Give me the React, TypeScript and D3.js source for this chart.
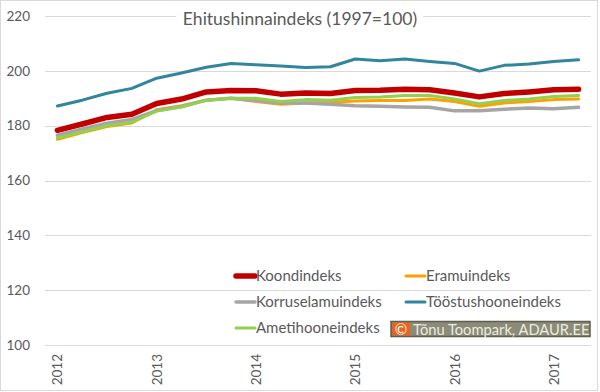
import React from "react";
import * as d3 from "d3";

const quarters: string[] = [
  "2012Q1", "2012Q2", "2012Q3", "2012Q4",
  "2013Q1", "2013Q2", "2013Q3", "2013Q4",
  "2014Q1", "2014Q2", "2014Q3", "2014Q4",
  "2015Q1", "2015Q2", "2015Q3", "2015Q4",
  "2016Q1", "2016Q2", "2016Q3", "2016Q4",
  "2017Q1", "2017Q2",
];

const koondindeks: number[] = [178.3, 180.6, 183.0, 184.2, 188.1, 189.7, 192.3, 192.8, 192.7, 191.5, 191.9, 191.7, 192.8, 192.9, 193.3, 193.1, 191.9, 190.5, 191.7, 192.3, 193.1, 193.3];
const eramuindeks: number[] = [175.0, 177.5, 179.7, 181.0, 185.8, 187.3, 189.3, 190.0, 188.8, 187.8, 188.3, 188.5, 189.0, 189.2, 189.2, 189.7, 188.8, 187.1, 188.3, 188.8, 189.5, 189.7];
const korruselamuindeks: number[] = [176.5, 178.8, 180.9, 182.3, 185.5, 187.0, 189.3, 190.0, 189.2, 188.3, 188.3, 187.8, 187.3, 187.1, 186.8, 186.7, 185.4, 185.4, 186.0, 186.4, 186.2, 186.7];
const toostushooneindeks: number[] = [187.2, 189.3, 191.8, 193.6, 197.3, 199.2, 201.3, 202.7, 202.2, 201.8, 201.2, 201.5, 204.3, 203.7, 204.3, 203.4, 202.7, 199.9, 202.0, 202.5, 203.4, 204.0];
const ametihooneindeks: number[] = [175.5, 177.8, 180.0, 181.3, 185.3, 186.8, 189.3, 190.0, 190.0, 188.8, 189.5, 189.3, 190.3, 190.5, 191.0, 191.0, 189.7, 188.0, 189.2, 189.7, 190.6, 191.0];

const seriesNames: string[] = ["Koondindeks", "Eramuindeks", "Korruselamuindeks", "Tööstushooneindeks", "Ametihooneindeks"];
const seriesValues: number[][] = [koondindeks, eramuindeks, korruselamuindeks, toostushooneindeks, ametihooneindeks];
const seriesColors: string[] = ["#c00000", "#ffa000", "#a5a5a5", "#31859c", "#92d050"];
const seriesWidths: number[] = [5.5, 3, 3.5, 3, 3];

const yTicks: number[] = [100, 120, 140, 160, 180, 200, 220];
const title = "Ehitushinnaindeks (1997=100)";
const credit = "Tõnu Toompark, ADAUR.EE";

const W = 600;
const H = 392;
const FONT = "Lato, 'Open Sans', sans-serif";
const TXT = "#595959";

export default function App() {
  const x = d3.scaleBand<number>().domain(quarters.map((_, i) => i)).range([45, 591]);
  const cx = (i: number) => (x(i) as number) + x.bandwidth() / 2;
  const y = d3.scaleLinear().domain([100, 220]).range([345, 16]);

  const line = d3
    .line<number>()
    .x((_, i) => cx(i))
    .y((d) => y(d));

  const legendPos = [
    { x: 236, y: 276 },
    { x: 406, y: 276 },
    { x: 236, y: 302 },
    { x: 406, y: 302 },
    { x: 236, y: 328 },
  ];

  return (
    <svg
      width={W}
      height={H}
      style={{ position: "absolute", left: 0, top: 0, background: "#fff" }}
      fontFamily={FONT}
    >
      <rect x={0.5} y={0.5} width={597} height={390} fill="#fff" stroke="#d9d9d9" />
      {yTicks.map((t) => (
        <g key={t}>
          <line x1={45} x2={591} y1={Math.round(y(t)) + 0.5} y2={Math.round(y(t)) + 0.5} stroke="#d9d9d9" strokeWidth={1} />
          <text x={30} y={y(t)} dy="0.35em" textAnchor="end" fontSize={13.5} fill={TXT}>
            {t}
          </text>
        </g>
      ))}
      {quarters.map((q, i) =>
        q.endsWith("Q1") ? (
          <text
            key={q}
            transform={`translate(${cx(i) + 5},354) rotate(-90)`}
            textAnchor="end"
            fontSize={13.5}
            fill={TXT}
          >
            {q.slice(0, 4)}
          </text>
        ) : null
      )}
      <rect x={176} y={6} width={247} height={24} fill="#fff" />
      <text x={300} y={25} textAnchor="middle" fontSize={17.5} fill={TXT}>
        {title}
      </text>
      {seriesValues.map((vals, s) => (
        <path
          key={seriesNames[s]}
          d={line(vals) || ""}
          fill="none"
          stroke={seriesColors[s]}
          strokeWidth={seriesWidths[s]}
          strokeLinejoin="round"
          strokeLinecap="round"
        />
      ))}
      {seriesNames.map((n, s) => (
        <g key={n}>
          <line
            x1={legendPos[s].x}
            x2={legendPos[s].x + 19}
            y1={legendPos[s].y}
            y2={legendPos[s].y}
            stroke={seriesColors[s]}
            strokeWidth={seriesWidths[s]}
            strokeLinecap="round"
          />
          <text x={legendPos[s].x + 20} y={legendPos[s].y} dy="0.35em" fontSize={15} fill={TXT}>
            {n}
          </text>
        </g>
      ))}
      <rect x={391} y={321.5} width={199} height={15} fill="#8b8b78" stroke="#5e5e50" strokeWidth={1.5} />
      <rect x={392} y={322.5} width={18} height={13} fill="#e8641b" />
      <text x={401} y={329.5} dy="0.36em" textAnchor="middle" fontSize={15} fill="#fff">
        ©
      </text>
      <text x={413} y={329.5} dy="0.36em" fontSize={14.7} fill="#ecece0">
        {credit}
      </text>
    </svg>
  );
}
